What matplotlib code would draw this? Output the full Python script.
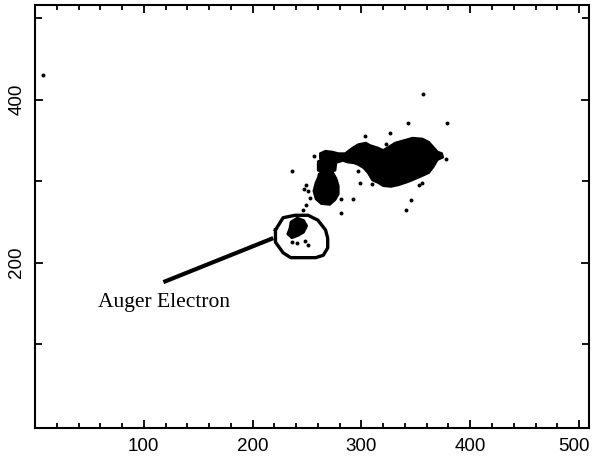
import numpy as np
import matplotlib
matplotlib.use("Agg")
import matplotlib.pyplot as plt
import matplotlib.transforms as mtransforms
from matplotlib.ticker import MultipleLocator, FixedLocator

# dense region outlines (data units)
main_x = [262, 267, 273, 279, 285, 292, 297, 304, 308, 315, 320, 325, 331, 339, 347,
          356, 362, 366, 370, 374, 375, 370, 366, 362, 352, 343, 334, 327, 320, 315,
          310, 306, 302, 297, 293, 287, 283, 276, 270, 265, 262]
main_y = [334, 337, 336, 334, 334, 341, 345, 347, 344, 341, 338, 342, 347, 350, 353,
          352, 348, 342, 336, 334, 329, 326, 317, 310, 304, 299, 295, 293, 294, 298,
          301, 310, 316, 320, 322, 323, 325, 322, 322, 323, 328]

strand_x = [260, 268, 277, 276, 268, 260]
strand_y = [324, 330, 324, 313, 310, 313]

second_x = [261, 265, 270, 274, 277, 279, 279, 276, 271, 263, 258, 256, 258, 260]
second_y = [309, 312, 314, 310, 303, 294, 284, 277, 271, 272, 278, 288, 298, 304]

auger_x = [235, 241, 247, 250, 247, 242, 236, 232, 234]
auger_y = [250, 255, 252, 245, 237, 233, 230, 235, 242]

# isolated counts
dots_x = [7, 236, 256, 303, 326, 323, 343, 379, 357, 378, 297, 299, 310, 353, 346,
          341, 292, 249, 247, 251, 253, 249, 246, 281, 281, 236, 241, 248, 251, 356]
dots_y = [430, 312, 331, 355, 359, 345, 371, 371, 407, 327, 312, 298, 296, 295, 277,
          264, 278, 295, 290, 288, 279, 271, 264, 278, 261, 225, 224, 226, 222, 297]

# hand-drawn ring around the Auger spot and its pointer
ring_x = [221, 228, 239, 251, 260, 267, 269, 269, 265, 258, 235, 228, 221, 221]
ring_y = [240, 255, 258, 258, 252, 240, 230, 218, 209, 206, 206, 212, 225, 240]
pointer_x = [118, 219]
pointer_y = [176, 230]

label_text = "Auger Electron"
label_pos = (58, 145)

fig = plt.figure(figsize=(5.93, 4.57), dpi=100)
ax = fig.add_axes([0.059, 0.0635, 0.934, 0.9255])

for px, py in [(main_x, main_y), (strand_x, strand_y), (second_x, second_y),
               (auger_x, auger_y)]:
    ax.fill(px, py, color="black", lw=1.5, ec="black", joinstyle="round")
ax.scatter(dots_x, dots_y, s=8, color="black", lw=0)

ax.plot(ring_x, ring_y, color="black", lw=2.4, solid_joinstyle="round")
ax.plot(pointer_x, pointer_y, color="black", lw=3, solid_capstyle="butt")
ax.text(label_pos[0], label_pos[1], label_text, family="Liberation Serif",
        fontsize=15.5, ha="left", va="baseline")

ax.set_xlim(0, 509)
ax.set_ylim(-3, 516)

ax.xaxis.set_major_locator(MultipleLocator(100))
ax.xaxis.set_minor_locator(MultipleLocator(20))
ax.yaxis.set_major_locator(FixedLocator([200, 400]))
ax.yaxis.set_minor_locator(FixedLocator([100, 300, 500]))
ax.set_xticks([100, 200, 300, 400, 500])

ax.tick_params(which="both", direction="in", top=True, right=True, width=1.3,
               labelsize=13.5, pad=7)
ax.tick_params(which="major", length=6)
ax.tick_params(which="minor", length=3.5)
ax.tick_params(axis="y", which="minor", length=5)
for lab in ax.get_xticklabels() + ax.get_yticklabels():
    lab.set_family("Liberation Sans")
for lab in ax.get_yticklabels():
    lab.set_rotation(90)
    lab.set_va("center")

# the last x label sits right on the figure edge, nudge it in a little
last = ax.get_xticklabels()[-1]
last.set_transform(last.get_transform() +
                   mtransforms.ScaledTranslation(-5 / 100, 0, fig.dpi_scale_trans))

for sp in ax.spines.values():
    sp.set_linewidth(1.5)

fig.savefig("out.png", dpi=100)
